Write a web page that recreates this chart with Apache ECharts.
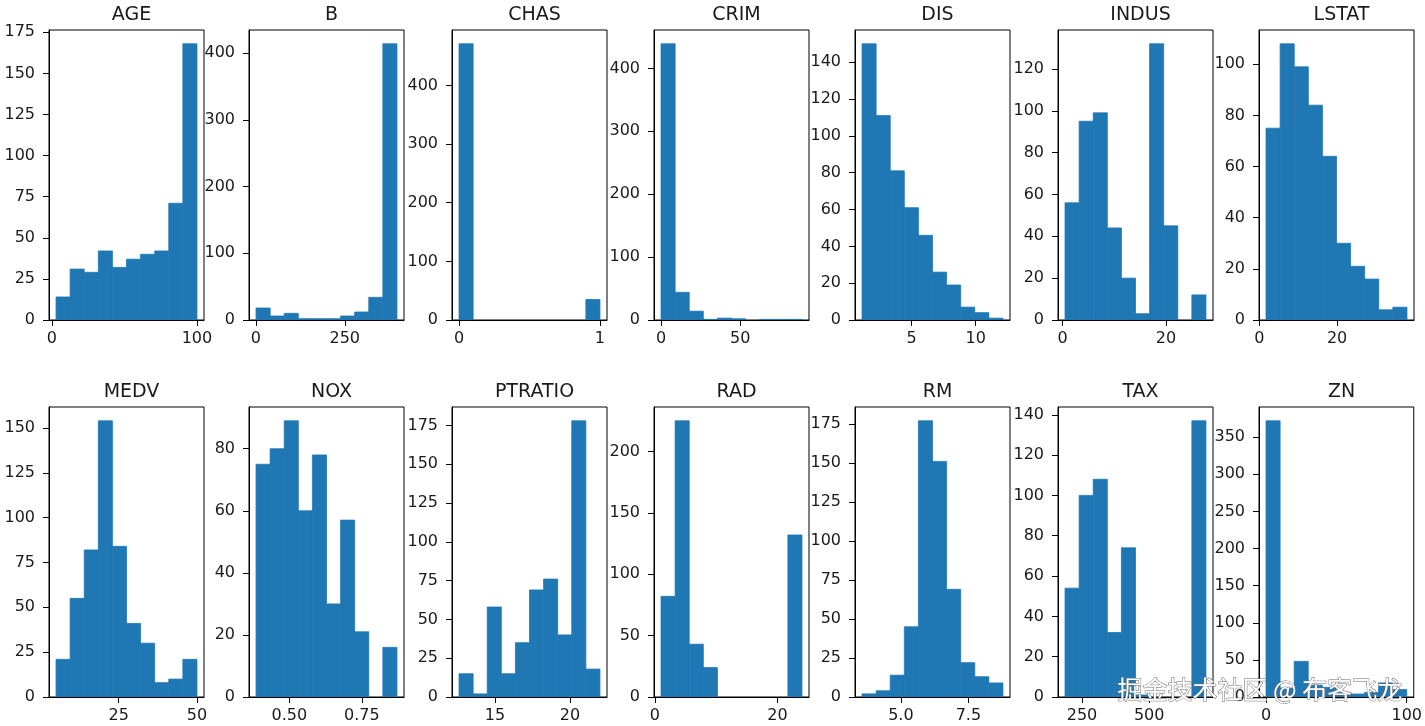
<!DOCTYPE html>
<html>
<head>
<meta charset="utf-8">
<script src="https://cdn.jsdelivr.net/npm/echarts@6/dist/echarts.min.js"></script>
<style>
html,body{margin:0;padding:0;background:#fff;}
#chart{width:1425px;height:726px;}
</style>
</head>
<body>
<div id="chart"></div>
<script>
// Variable names (panel titles), in panel order
const names = ['AGE','B','CHAS','CRIM','DIS','INDUS','LSTAT','MEDV','NOX','PTRATIO','RAD','RM','TAX','ZN'];

// Histogram counts (10 bins each)
const ageCounts     = [14, 31, 29, 42, 32, 37, 40, 42, 71, 168];
const bCounts       = [18, 6, 10, 2, 2, 2, 6, 12, 34, 414];
const chasCounts    = [471, 0, 0, 0, 0, 0, 0, 0, 0, 35];
const crimCounts    = [439, 44, 14, 1, 3, 2, 0, 1, 1, 1];
const disCounts     = [150, 111, 81, 61, 46, 26, 19, 7, 4, 1];
const indusCounts   = [56, 95, 99, 44, 20, 3, 132, 45, 0, 12];
const lstatCounts   = [75, 108, 99, 84, 64, 30, 21, 16, 4, 5];
const medvCounts    = [21, 55, 82, 154, 84, 41, 30, 8, 10, 21];
const noxCounts     = [75, 80, 89, 60, 78, 30, 57, 21, 0, 16];
const ptratioCounts = [15, 2, 58, 15, 35, 69, 76, 40, 178, 18];
const radCounts     = [82, 225, 43, 24, 0, 0, 0, 0, 0, 132];
const rmCounts      = [2, 4, 14, 45, 177, 151, 69, 22, 13, 9];
const taxCounts     = [54, 100, 108, 32, 74, 1, 0, 0, 0, 137];
const znCounts      = [372, 12, 48, 16, 13, 6, 4, 6, 19, 10];

const allCounts = [ageCounts, bCounts, chasCounts, crimCounts, disCounts, indusCounts, lstatCounts,
                   medvCounts, noxCounts, ptratioCounts, radCounts, rmCounts, taxCounts, znCounts];

// Data range of each variable (histogram spans min..max)
const dataMin = [2.9, 0.32, 0, 0.00632, 1.1296, 0.46, 1.73, 5, 0.385, 12.6, 1, 3.561, 187, 0];
const dataMax = [100, 396.9, 1, 88.9762, 12.1265, 27.74, 37.97, 50, 0.871, 22.0, 24, 8.78, 711, 100];

// Tick values and labels
const xTicks = [[0,100],[0,250],[0,1],[0,50],[5,10],[0,20],[0,20],[25,50],[0.5,0.75],[15,20],[0,20],[5,7.5],[250,500],[0,100]];
const xTickLabels = [['0','100'],['0','250'],['0','1'],['0','50'],['5','10'],['0','20'],['0','20'],['25','50'],['0.50','0.75'],['15','20'],['0','20'],['5.0','7.5'],['250','500'],['0','100']];
const yTicks = [
  [0,25,50,75,100,125,150,175],
  [0,100,200,300,400],
  [0,100,200,300,400],
  [0,100,200,300,400],
  [0,20,40,60,80,100,120,140],
  [0,20,40,60,80,100,120],
  [0,20,40,60,80,100],
  [0,25,50,75,100,125,150],
  [0,20,40,60,80],
  [0,25,50,75,100,125,150,175],
  [0,50,100,150,200],
  [0,25,50,75,100,125,150,175],
  [0,20,40,60,80,100,120,140],
  [0,50,100,150,200,250,300,350]
];

const BAR = '#1f77b4';
const TXT = '#1a1a1a';
const FONT = 'DejaVu Sans';

const colLeft = [49, 249, 452, 654, 855, 1058, 1259];
const rowTop = [30, 407];
const W = 155, H = 290;

const grids = [], xAxes = [], yAxes = [], series = [], titles = [];
names.forEach((name, i) => {
  const r = Math.floor(i / 7), c = i % 7;
  const left = colLeft[c], top = rowTop[r];
  grids.push({left: left, top: top, width: W, height: H, show: true, borderColor: '#000', borderWidth: 1, containLabel: false});
  const lo = dataMin[i], hi = dataMax[i], span = hi - lo;
  const counts = allCounts[i];
  const ymax = Math.max.apply(null, counts) * 1.05;
  const labels = xTickLabels[i], ticks = xTicks[i];
  xAxes.push({
    type: 'value', gridIndex: i, min: lo - 0.05 * span, max: hi + 0.05 * span,
    axisLine: {show: true, onZero: false, lineStyle: {color: '#000', width: 1}},
    axisTick: {show: true, length: 6, customValues: ticks, lineStyle: {color: '#000', width: 1}},
    axisLabel: {show: true, customValues: ticks, margin: 11, fontSize: 16, fontFamily: FONT, color: TXT,
      formatter: v => { const k = ticks.findIndex(t => Math.abs(t - v) < 1e-9); return k >= 0 ? labels[k] : ''; }},
    splitLine: {show: false}
  });
  yAxes.push({
    type: 'value', gridIndex: i, min: 0, max: ymax,
    axisLine: {show: true, onZero: false, lineStyle: {color: '#000', width: 1}},
    axisTick: {show: true, length: 6, customValues: yTicks[i], lineStyle: {color: '#000', width: 1}},
    axisLabel: {show: true, customValues: yTicks[i], margin: 14, fontSize: 16, fontFamily: FONT, color: TXT},
    splitLine: {show: false}
  });
  const bins = counts.map((n, k) => [lo + span * k / 10, lo + span * (k + 1) / 10, n]);
  series.push({
    type: 'custom', xAxisIndex: i, yAxisIndex: i, clip: true, silent: true,
    encode: {x: [0, 1], y: 2},
    data: bins,
    renderItem: (params, api) => {
      if (api.value(2) <= 0) return null;
      const p0 = api.coord([api.value(0), 0]);
      const p1 = api.coord([api.value(1), api.value(2)]);
      return {type: 'rect', shape: {x: p0[0], y: p1[1], width: p1[0] - p0[0], height: p0[1] - p1[1]},
              style: {fill: BAR, stroke: BAR, lineWidth: 0.8}};
    }
  });
  titles.push({
    text: name, left: left + W / 2, top: top - 29, textAlign: 'center',
    textStyle: {fontSize: 19, fontWeight: 'normal', fontFamily: FONT, color: TXT}
  });
});

const chart = echarts.init(document.getElementById('chart'), null, {renderer: 'canvas'});
chart.setOption({
  animation: false,
  backgroundColor: '#fff',
  title: titles,
  grid: grids,
  xAxis: xAxes,
  yAxis: yAxes,
  series: series,
  graphic: [{
    type: 'text', left: 1117, top: 676, z: 100,
    style: {text: '掘金技术社区 @ 布客飞龙', font: '25px "Noto Sans CJK SC"', fill: '#ffffff', stroke: '#6a6a6a', lineWidth: 1}
  }]
});
</script>
</body>
</html>
